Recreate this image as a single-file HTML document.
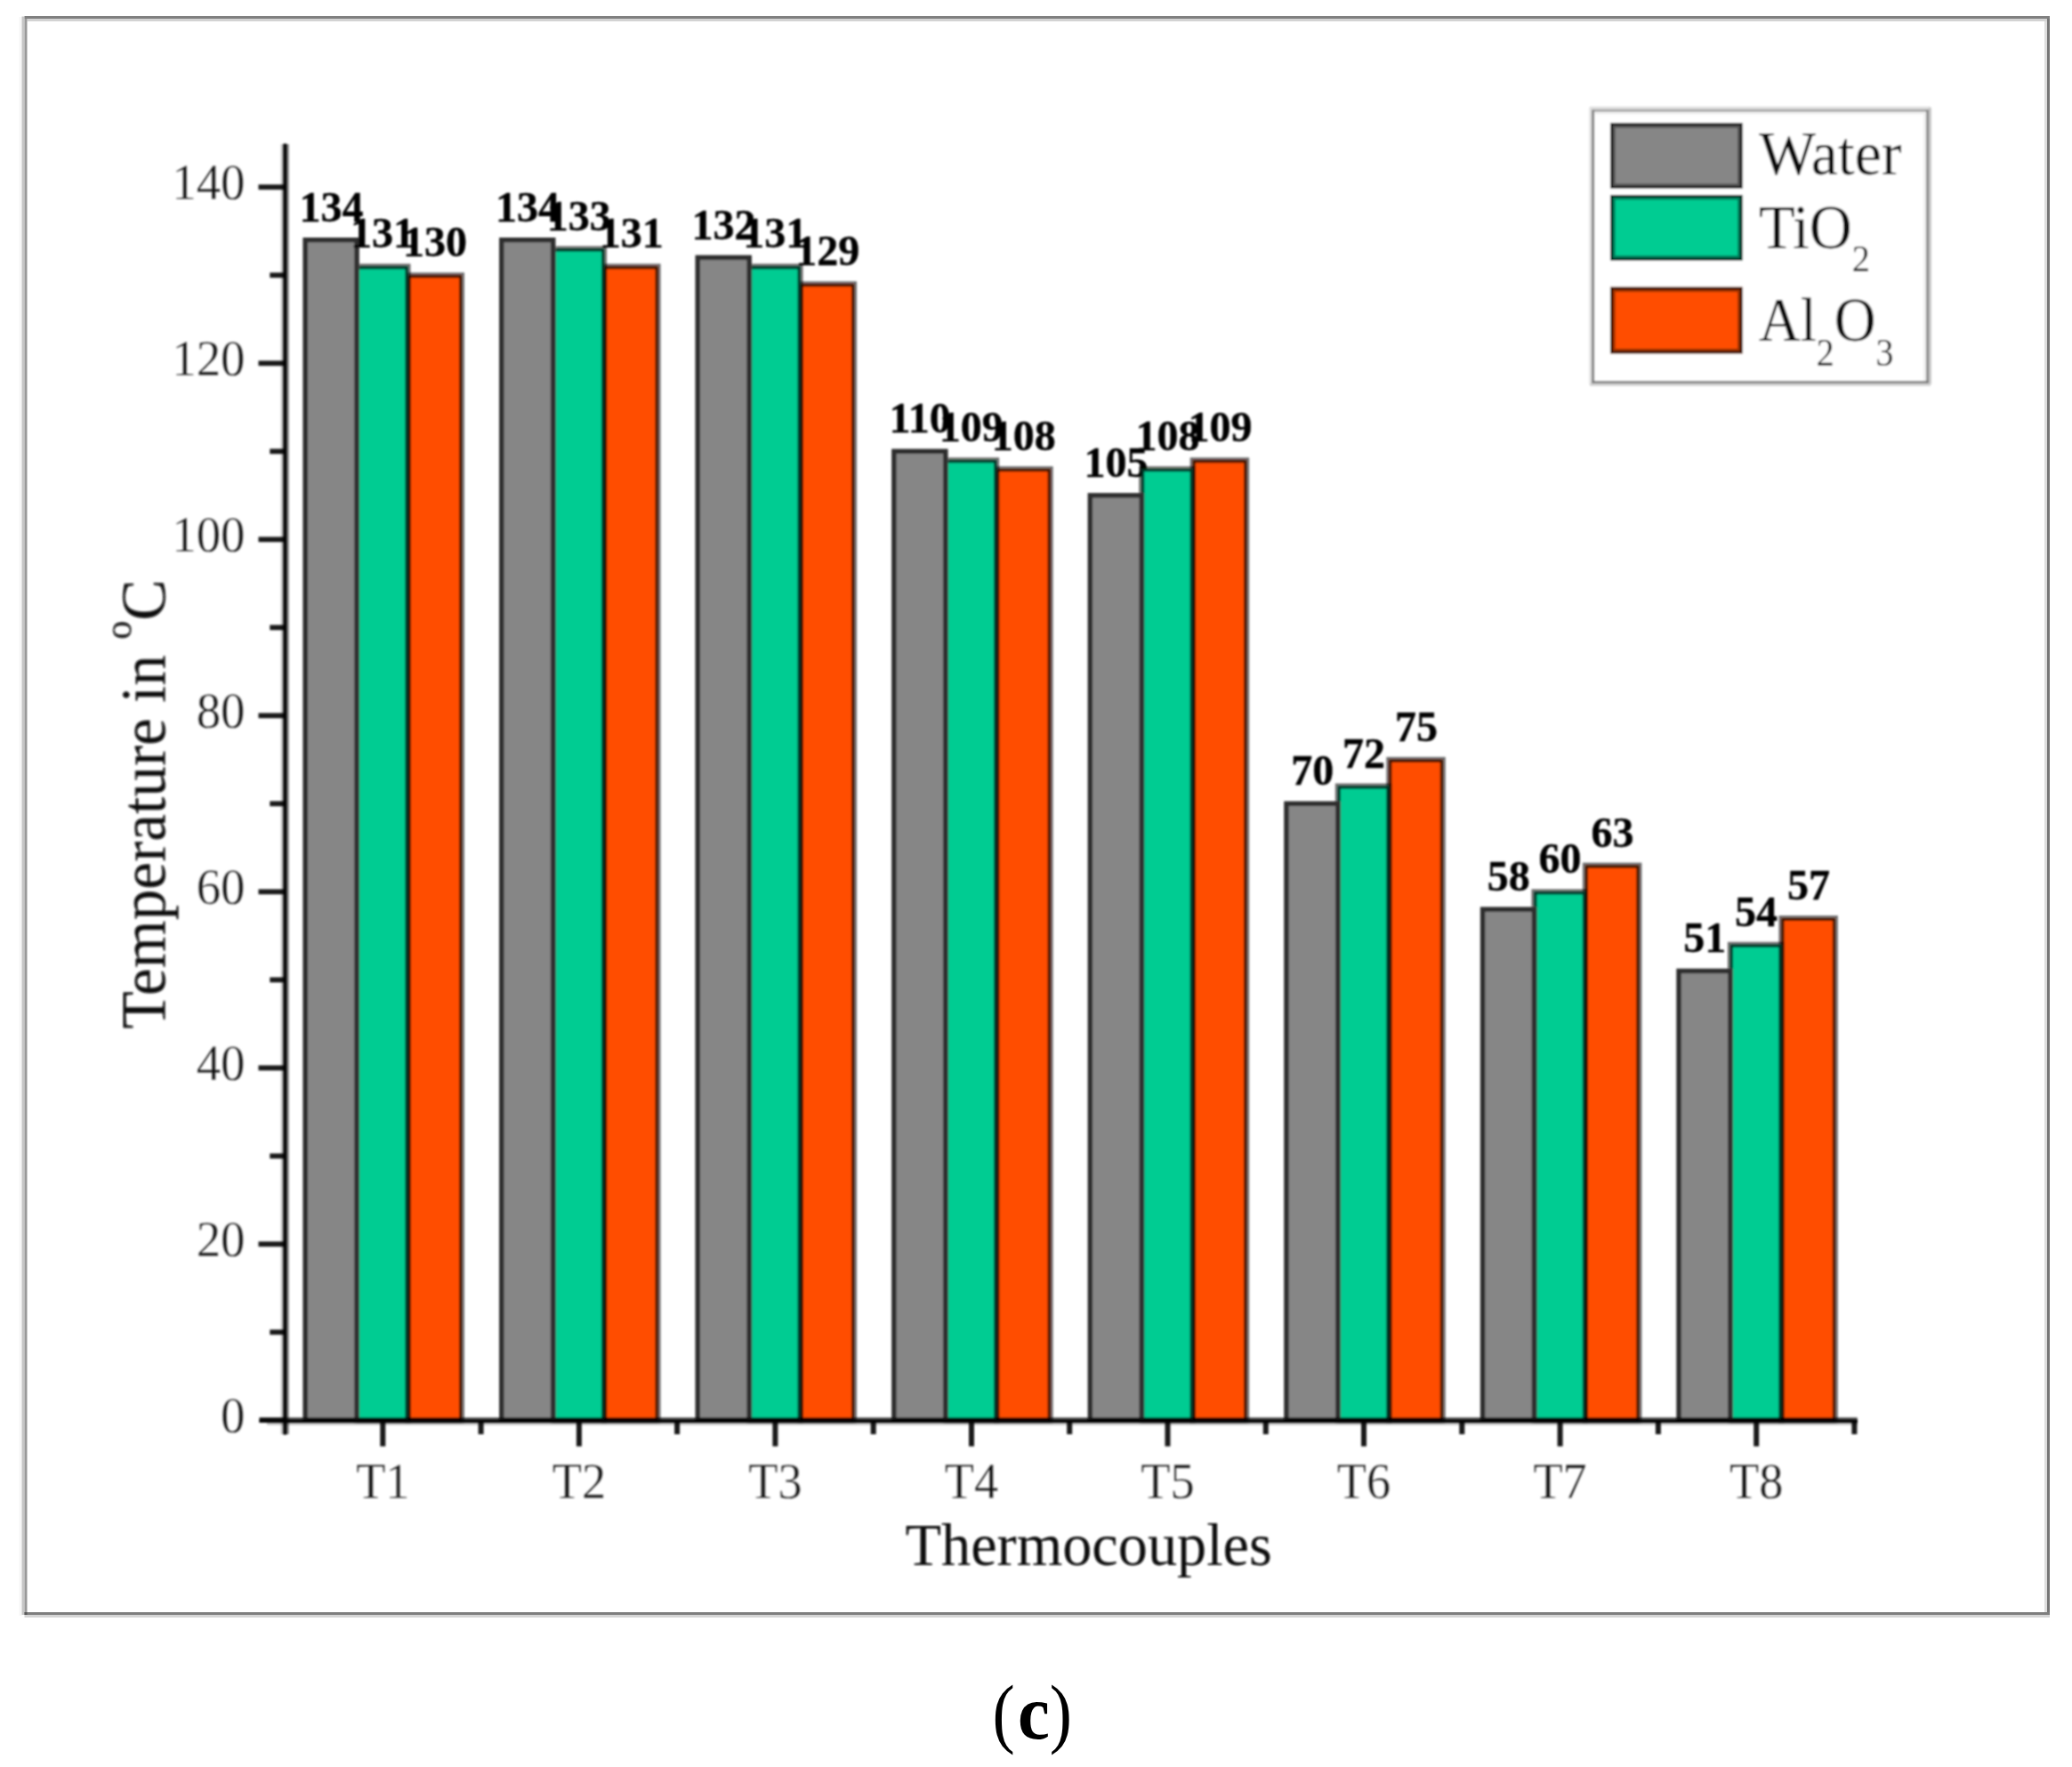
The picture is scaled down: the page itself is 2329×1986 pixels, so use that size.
<!DOCTYPE html>
<html lang="en"><head><meta charset="utf-8"><title>Figure (c)</title>
<style>html,body{margin:0;padding:0;background:#fff}body{width:2329px;height:1986px;overflow:hidden}svg{display:block}text{font-family:"Liberation Serif",serif}</style>
</head><body>
<svg width="2329" height="1986" viewBox="0 0 2329 1986">
<defs><filter id="bl" x="-2%" y="-2%" width="104%" height="104%"><feGaussianBlur stdDeviation="0.8"/></filter></defs>
<rect x="0" y="0" width="2329" height="1986" fill="#fff"/>
<g id="frame">
<rect x="21.5" y="19" width="3" height="1797" fill="#f7f7f7"/>
<rect x="24.5" y="18.5" width="3" height="1796.5" fill="#c6c6c6"/>
<rect x="2298" y="21" width="3" height="1794" fill="#dedede"/>
<rect x="30.5" y="21" width="2270.5" height="3" fill="#d3d3d3"/>
<rect x="27.5" y="1815" width="2276.5" height="3" fill="#d5d5d5"/>
<rect x="27.5" y="18" width="2276.5" height="3" fill="#808080"/>
<rect x="27.5" y="1812" width="2276.5" height="3" fill="#7e7e7e"/>
<rect x="27.5" y="21" width="3" height="1791" fill="#999"/>
<rect x="2301" y="21" width="3" height="1791" fill="#777"/>
<rect x="27.5" y="1812" width="3" height="3" fill="#5a5a5a"/>
</g>
<g id="chart" filter="url(#bl)">
<text transform="translate(372.4 248.7) scale(1.000 1)" font-size="48" text-anchor="middle" fill="#000" font-weight="bold" stroke="#000" stroke-width="0.35">134</text>
<text transform="translate(593.0 248.7) scale(1.000 1)" font-size="48" text-anchor="middle" fill="#000" font-weight="bold" stroke="#000" stroke-width="0.35">134</text>
<text transform="translate(813.5 268.5) scale(1.000 1)" font-size="48" text-anchor="middle" fill="#000" font-weight="bold" stroke="#000" stroke-width="0.35">132</text>
<text transform="translate(1034.1 486.3) scale(1.000 1)" font-size="48" text-anchor="middle" fill="#000" font-weight="bold" stroke="#000" stroke-width="0.35">110</text>
<text transform="translate(1254.6 535.8) scale(1.000 1)" font-size="48" text-anchor="middle" fill="#000" font-weight="bold" stroke="#000" stroke-width="0.35">105</text>
<text transform="translate(1475.2 882.3) scale(1.000 1)" font-size="48" text-anchor="middle" fill="#000" font-weight="bold" stroke="#000" stroke-width="0.35">70</text>
<text transform="translate(1695.8 1001.1) scale(1.000 1)" font-size="48" text-anchor="middle" fill="#000" font-weight="bold" stroke="#000" stroke-width="0.35">58</text>
<text transform="translate(1916.3 1070.4) scale(1.000 1)" font-size="48" text-anchor="middle" fill="#000" font-weight="bold" stroke="#000" stroke-width="0.35">51</text>
<g stroke="#000" stroke-opacity="0.56" stroke-width="6">
<rect x="458.5" y="309.3" width="60.5" height="1287.0" fill="#ff4e00"/>
<rect x="460.0" y="310.8" width="57.5" height="1287.0" fill="none" stroke-opacity="0.42" stroke-width="3"/>
<rect x="401.0" y="299.4" width="57.5" height="1296.9" fill="#00cc92"/>
<rect x="402.5" y="300.9" width="54.5" height="1296.9" fill="none" stroke-opacity="0.42" stroke-width="3"/>
<rect x="340.5" y="267.0" width="63.5" height="1329.3" fill="#868686" stroke="none"/>
<rect x="343.2" y="269.7" width="57.8" height="1326.6" fill="none" stroke-opacity="0.66" stroke-width="5.4"/>
<rect x="679.1" y="299.4" width="60.5" height="1296.9" fill="#ff4e00"/>
<rect x="680.6" y="300.9" width="57.5" height="1296.9" fill="none" stroke-opacity="0.42" stroke-width="3"/>
<rect x="621.6" y="279.6" width="57.5" height="1316.7" fill="#00cc92"/>
<rect x="623.1" y="281.1" width="54.5" height="1316.7" fill="none" stroke-opacity="0.42" stroke-width="3"/>
<rect x="561.1" y="267.0" width="63.5" height="1329.3" fill="#868686" stroke="none"/>
<rect x="563.8" y="269.7" width="57.8" height="1326.6" fill="none" stroke-opacity="0.66" stroke-width="5.4"/>
<rect x="899.6" y="319.2" width="60.5" height="1277.1" fill="#ff4e00"/>
<rect x="901.1" y="320.7" width="57.5" height="1277.1" fill="none" stroke-opacity="0.42" stroke-width="3"/>
<rect x="842.1" y="299.4" width="57.5" height="1296.9" fill="#00cc92"/>
<rect x="843.6" y="300.9" width="54.5" height="1296.9" fill="none" stroke-opacity="0.42" stroke-width="3"/>
<rect x="781.6" y="286.8" width="63.5" height="1309.5" fill="#868686" stroke="none"/>
<rect x="784.3" y="289.5" width="57.8" height="1306.8" fill="none" stroke-opacity="0.66" stroke-width="5.4"/>
<rect x="1120.2" y="527.1" width="60.5" height="1069.2" fill="#ff4e00"/>
<rect x="1121.7" y="528.6" width="57.5" height="1069.2" fill="none" stroke-opacity="0.42" stroke-width="3"/>
<rect x="1062.7" y="517.2" width="57.5" height="1079.1" fill="#00cc92"/>
<rect x="1064.2" y="518.7" width="54.5" height="1079.1" fill="none" stroke-opacity="0.42" stroke-width="3"/>
<rect x="1002.2" y="504.6" width="63.5" height="1091.7" fill="#868686" stroke="none"/>
<rect x="1004.9" y="507.3" width="57.8" height="1089.0" fill="none" stroke-opacity="0.66" stroke-width="5.4"/>
<rect x="1340.7" y="517.2" width="60.5" height="1079.1" fill="#ff4e00"/>
<rect x="1342.2" y="518.7" width="57.5" height="1079.1" fill="none" stroke-opacity="0.42" stroke-width="3"/>
<rect x="1283.2" y="527.1" width="57.5" height="1069.2" fill="#00cc92"/>
<rect x="1284.7" y="528.6" width="54.5" height="1069.2" fill="none" stroke-opacity="0.42" stroke-width="3"/>
<rect x="1222.7" y="554.1" width="63.5" height="1042.2" fill="#868686" stroke="none"/>
<rect x="1225.4" y="556.8" width="57.8" height="1039.5" fill="none" stroke-opacity="0.66" stroke-width="5.4"/>
<rect x="1561.3" y="853.8" width="60.5" height="742.5" fill="#ff4e00"/>
<rect x="1562.8" y="855.3" width="57.5" height="742.5" fill="none" stroke-opacity="0.42" stroke-width="3"/>
<rect x="1503.8" y="883.5" width="57.5" height="712.8" fill="#00cc92"/>
<rect x="1505.3" y="885.0" width="54.5" height="712.8" fill="none" stroke-opacity="0.42" stroke-width="3"/>
<rect x="1443.3" y="900.6" width="63.5" height="695.7" fill="#868686" stroke="none"/>
<rect x="1446.0" y="903.3" width="57.8" height="693.0" fill="none" stroke-opacity="0.66" stroke-width="5.4"/>
<rect x="1781.9" y="972.6" width="60.5" height="623.7" fill="#ff4e00"/>
<rect x="1783.4" y="974.1" width="57.5" height="623.7" fill="none" stroke-opacity="0.42" stroke-width="3"/>
<rect x="1724.4" y="1002.3" width="57.5" height="594.0" fill="#00cc92"/>
<rect x="1725.9" y="1003.8" width="54.5" height="594.0" fill="none" stroke-opacity="0.42" stroke-width="3"/>
<rect x="1663.9" y="1019.4" width="63.5" height="576.9" fill="#868686" stroke="none"/>
<rect x="1666.6" y="1022.1" width="57.8" height="574.2" fill="none" stroke-opacity="0.66" stroke-width="5.4"/>
<rect x="2002.4" y="1032.0" width="60.5" height="564.3" fill="#ff4e00"/>
<rect x="2003.9" y="1033.5" width="57.5" height="564.3" fill="none" stroke-opacity="0.42" stroke-width="3"/>
<rect x="1944.9" y="1061.7" width="57.5" height="534.6" fill="#00cc92"/>
<rect x="1946.4" y="1063.2" width="54.5" height="534.6" fill="none" stroke-opacity="0.42" stroke-width="3"/>
<rect x="1884.4" y="1088.7" width="63.5" height="507.6" fill="#868686" stroke="none"/>
<rect x="1887.1" y="1091.4" width="57.8" height="504.9" fill="none" stroke-opacity="0.66" stroke-width="5.4"/>
</g>
<g fill="#000">
<rect x="303.3" y="1494.4" width="16.2" height="5.8" fill-opacity="0.9"/>
<rect x="290.5" y="1395.4" width="29.0" height="5.8" fill-opacity="0.9"/>
<rect x="303.3" y="1296.4" width="16.2" height="5.8" fill-opacity="0.9"/>
<rect x="290.5" y="1197.4" width="29.0" height="5.8" fill-opacity="0.9"/>
<rect x="303.3" y="1098.4" width="16.2" height="5.8" fill-opacity="0.9"/>
<rect x="290.5" y="999.4" width="29.0" height="5.8" fill-opacity="0.9"/>
<rect x="303.3" y="900.4" width="16.2" height="5.8" fill-opacity="0.9"/>
<rect x="290.5" y="801.4" width="29.0" height="5.8" fill-opacity="0.9"/>
<rect x="303.3" y="702.4" width="16.2" height="5.8" fill-opacity="0.9"/>
<rect x="290.5" y="603.4" width="29.0" height="5.8" fill-opacity="0.9"/>
<rect x="303.3" y="504.4" width="16.2" height="5.8" fill-opacity="0.9"/>
<rect x="290.5" y="405.4" width="29.0" height="5.8" fill-opacity="0.9"/>
<rect x="303.3" y="306.4" width="16.2" height="5.8" fill-opacity="0.9"/>
<rect x="290.5" y="207.4" width="29.0" height="5.8" fill-opacity="0.9"/>
<rect x="291.5" y="1593.1" width="28" height="5.6" fill-opacity="0.9"/>
<rect x="427.3" y="1597" width="6" height="28.6" fill-opacity="0.9"/>
<rect x="537.6" y="1597" width="6" height="15" fill-opacity="0.9"/>
<rect x="647.9" y="1597" width="6" height="28.6" fill-opacity="0.9"/>
<rect x="758.1" y="1597" width="6" height="15" fill-opacity="0.9"/>
<rect x="868.4" y="1597" width="6" height="28.6" fill-opacity="0.9"/>
<rect x="978.7" y="1597" width="6" height="15" fill-opacity="0.9"/>
<rect x="1089.0" y="1597" width="6" height="28.6" fill-opacity="0.9"/>
<rect x="1199.2" y="1597" width="6" height="15" fill-opacity="0.9"/>
<rect x="1309.5" y="1597" width="6" height="28.6" fill-opacity="0.9"/>
<rect x="1419.8" y="1597" width="6" height="15" fill-opacity="0.9"/>
<rect x="1530.0" y="1597" width="6" height="28.6" fill-opacity="0.9"/>
<rect x="1640.3" y="1597" width="6" height="15" fill-opacity="0.9"/>
<rect x="1750.6" y="1597" width="6" height="28.6" fill-opacity="0.9"/>
<rect x="1860.9" y="1597" width="6" height="15" fill-opacity="0.9"/>
<rect x="1971.2" y="1597" width="6" height="28.6" fill-opacity="0.9"/>
<rect x="2081.4" y="1597" width="6" height="15" fill-opacity="0.9"/>
<rect x="315.8" y="162" width="2.9" height="1450" fill-opacity="0.27"/>
<rect x="318.4" y="161.5" width="3.9" height="1451" fill-opacity="1"/>
<rect x="321.9" y="162" width="2.9" height="1450" fill-opacity="0.5"/>
<rect x="318.7" y="1593.1" width="1769" height="2.9" fill-opacity="0.67"/>
<rect x="291.5" y="1595.6" width="1796.5" height="3.4" fill-opacity="1"/>
<rect x="300" y="1598.7" width="1788" height="3" fill-opacity="0.24"/>
</g>
<text transform="translate(275.5 1609.7) scale(0.980 1)" font-size="56" text-anchor="end" fill="#111" stroke="#fff" stroke-width="0.30">0</text>
<text transform="translate(275.5 1411.7) scale(0.980 1)" font-size="56" text-anchor="end" fill="#111" stroke="#fff" stroke-width="0.30">20</text>
<text transform="translate(275.5 1213.7) scale(0.980 1)" font-size="56" text-anchor="end" fill="#111" stroke="#fff" stroke-width="0.30">40</text>
<text transform="translate(275.5 1015.7) scale(0.980 1)" font-size="56" text-anchor="end" fill="#111" stroke="#fff" stroke-width="0.30">60</text>
<text transform="translate(275.5 817.7) scale(0.980 1)" font-size="56" text-anchor="end" fill="#111" stroke="#fff" stroke-width="0.30">80</text>
<text transform="translate(275.5 619.7) scale(0.980 1)" font-size="56" text-anchor="end" fill="#111" stroke="#fff" stroke-width="0.30">100</text>
<text transform="translate(275.5 421.7) scale(0.980 1)" font-size="56" text-anchor="end" fill="#111" stroke="#fff" stroke-width="0.30">120</text>
<text transform="translate(275.5 223.7) scale(0.980 1)" font-size="56" text-anchor="end" fill="#111" stroke="#fff" stroke-width="0.30">140</text>
<text transform="translate(430.3 1684.0) scale(0.937 1)" font-size="58" text-anchor="middle" fill="#111" stroke="#fff" stroke-width="0.30">T1</text>
<text transform="translate(650.9 1684.0) scale(0.937 1)" font-size="58" text-anchor="middle" fill="#111" stroke="#fff" stroke-width="0.30">T2</text>
<text transform="translate(871.4 1684.0) scale(0.937 1)" font-size="58" text-anchor="middle" fill="#111" stroke="#fff" stroke-width="0.30">T3</text>
<text transform="translate(1092.0 1684.0) scale(0.937 1)" font-size="58" text-anchor="middle" fill="#111" stroke="#fff" stroke-width="0.30">T4</text>
<text transform="translate(1312.5 1684.0) scale(0.937 1)" font-size="58" text-anchor="middle" fill="#111" stroke="#fff" stroke-width="0.30">T5</text>
<text transform="translate(1533.0 1684.0) scale(0.937 1)" font-size="58" text-anchor="middle" fill="#111" stroke="#fff" stroke-width="0.30">T6</text>
<text transform="translate(1753.6 1684.0) scale(0.937 1)" font-size="58" text-anchor="middle" fill="#111" stroke="#fff" stroke-width="0.30">T7</text>
<text transform="translate(1974.2 1684.0) scale(0.937 1)" font-size="58" text-anchor="middle" fill="#111" stroke="#fff" stroke-width="0.30">T8</text>
<text transform="translate(430.1 278.4) scale(1.000 1)" font-size="48" text-anchor="middle" fill="#000" font-weight="bold" stroke="#000" stroke-width="0.35">131</text>
<text transform="translate(650.7 258.6) scale(1.000 1)" font-size="48" text-anchor="middle" fill="#000" font-weight="bold" stroke="#000" stroke-width="0.35">133</text>
<text transform="translate(871.3 278.4) scale(1.000 1)" font-size="48" text-anchor="middle" fill="#000" font-weight="bold" stroke="#000" stroke-width="0.35">131</text>
<text transform="translate(1091.8 496.2) scale(1.000 1)" font-size="48" text-anchor="middle" fill="#000" font-weight="bold" stroke="#000" stroke-width="0.35">109</text>
<text transform="translate(1312.4 506.1) scale(1.000 1)" font-size="48" text-anchor="middle" fill="#000" font-weight="bold" stroke="#000" stroke-width="0.35">108</text>
<text transform="translate(1533.0 862.5) scale(1.000 1)" font-size="48" text-anchor="middle" fill="#000" font-weight="bold" stroke="#000" stroke-width="0.35">72</text>
<text transform="translate(1753.5 981.3) scale(1.000 1)" font-size="48" text-anchor="middle" fill="#000" font-weight="bold" stroke="#000" stroke-width="0.35">60</text>
<text transform="translate(1974.1 1040.7) scale(1.000 1)" font-size="48" text-anchor="middle" fill="#000" font-weight="bold" stroke="#000" stroke-width="0.35">54</text>
<text transform="translate(489.1 288.3) scale(1.000 1)" font-size="48" text-anchor="middle" fill="#000" font-weight="bold" stroke="#000" stroke-width="0.35">130</text>
<text transform="translate(709.7 278.4) scale(1.000 1)" font-size="48" text-anchor="middle" fill="#000" font-weight="bold" stroke="#000" stroke-width="0.35">131</text>
<text transform="translate(930.3 298.2) scale(1.000 1)" font-size="48" text-anchor="middle" fill="#000" font-weight="bold" stroke="#000" stroke-width="0.35">129</text>
<text transform="translate(1150.8 506.1) scale(1.000 1)" font-size="48" text-anchor="middle" fill="#000" font-weight="bold" stroke="#000" stroke-width="0.35">108</text>
<text transform="translate(1371.4 496.2) scale(1.000 1)" font-size="48" text-anchor="middle" fill="#000" font-weight="bold" stroke="#000" stroke-width="0.35">109</text>
<text transform="translate(1592.0 832.8) scale(1.000 1)" font-size="48" text-anchor="middle" fill="#000" font-weight="bold" stroke="#000" stroke-width="0.35">75</text>
<text transform="translate(1812.5 951.6) scale(1.000 1)" font-size="48" text-anchor="middle" fill="#000" font-weight="bold" stroke="#000" stroke-width="0.35">63</text>
<text transform="translate(2033.1 1011.0) scale(1.000 1)" font-size="48" text-anchor="middle" fill="#000" font-weight="bold" stroke="#000" stroke-width="0.35">57</text>
<text transform="translate(1017.5 1759.3) scale(0.975 1)" font-size="68" text-anchor="start" fill="#0a0a0a">Thermocouples</text>
<text transform="translate(185.5 1156.5) rotate(-90) scale(0.963 1)" font-size="72" text-anchor="start" fill="#0a0a0a">Temperature in <tspan font-size="44" dy="-38">o</tspan><tspan dy="38">C</tspan></text>
<rect x="1789" y="123" width="379" height="308" fill="#fff"/>
<rect x="1786.3" y="121" width="2.9" height="311" fill="#e2e2e2"/>
<rect x="1789.2" y="123.2" width="2.9" height="307.7" fill="#787878"/>
<rect x="1787" y="119.8" width="383" height="3.4" fill="#dedede"/>
<rect x="1789.2" y="123.2" width="378.8" height="2.4" fill="#8e8e8e"/>
<rect x="1792.1" y="125.6" width="373" height="2.9" fill="#f0f0f0"/>
<rect x="2162" y="126" width="3.1" height="302" fill="#f0f0f0"/>
<rect x="2165.1" y="123.2" width="2.9" height="307.7" fill="#8a8a8a"/>
<rect x="2168" y="121" width="2.8" height="311" fill="#c4c4c4"/>
<rect x="1789.2" y="428.2" width="378.8" height="2.7" fill="#787878"/>
<rect x="1787" y="430.9" width="383" height="2.9" fill="#d2d2d2"/>
<rect x="1810.1" y="138.2" width="148.5" height="73.8" fill="#868686"/>
<rect x="1811.6" y="139.7" width="145.5" height="70.8" fill="none" stroke="#000" stroke-opacity="0.85" stroke-width="3"/>
<rect x="1814.4" y="142.5" width="139.9" height="65.2" fill="none" stroke="#000" stroke-opacity="0.38" stroke-width="2.6"/>
<rect x="1810.1" y="219.0" width="148.5" height="73.8" fill="#00cc92"/>
<rect x="1811.6" y="220.5" width="145.5" height="70.8" fill="none" stroke="#000" stroke-opacity="0.85" stroke-width="3"/>
<rect x="1814.4" y="223.3" width="139.9" height="65.2" fill="none" stroke="#000" stroke-opacity="0.38" stroke-width="2.6"/>
<rect x="1810.1" y="322.6" width="148.5" height="74.8" fill="#ff4e00"/>
<rect x="1811.6" y="324.1" width="145.5" height="71.8" fill="none" stroke="#000" stroke-opacity="0.85" stroke-width="3"/>
<rect x="1814.4" y="326.9" width="139.9" height="66.2" fill="none" stroke="#000" stroke-opacity="0.38" stroke-width="2.6"/>
<text transform="translate(1977.0 196.2) scale(0.960 1)" font-size="70.8" text-anchor="start" fill="#0a0a0a">Water</text>
<text transform="translate(1977.0 278.8) scale(0.938 1)" font-size="70.8" text-anchor="start" fill="#0a0a0a">TiO<tspan font-size="43" dy="26">2</tspan></text>
<text transform="translate(1977.0 383.0) scale(0.915 1)" font-size="70.8" text-anchor="start" fill="#0a0a0a">Al<tspan font-size="43.5" dy="27.5">2</tspan><tspan dy="-27.5">O</tspan><tspan font-size="43.5" dy="27.5">3</tspan></text>
</g>
<text transform="translate(1115.4 1954.2) scale(0.88 1)" font-size="86" fill="#000">(</text>
<text transform="translate(1144 1953.8) scale(0.94 1)" font-size="86" font-weight="bold" fill="#000">c</text>
<text transform="translate(1179.8 1954.2) scale(0.88 1)" font-size="86" fill="#000">)</text>
</svg></body></html>
